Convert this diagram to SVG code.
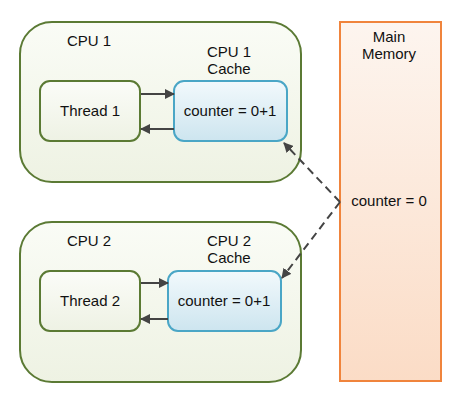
<svg xmlns="http://www.w3.org/2000/svg" width="461" height="401" viewBox="0 0 461 401">
<defs>
<linearGradient id="gCpu" x1="0" y1="0" x2="0" y2="1"><stop offset="0" stop-color="#fafcf6"/><stop offset="1" stop-color="#eef2e3"/></linearGradient>
<linearGradient id="gThread" x1="0" y1="0" x2="0" y2="1"><stop offset="0" stop-color="#fbfcf8"/><stop offset="1" stop-color="#eef2e4"/></linearGradient>
<linearGradient id="gCache" x1="0" y1="0" x2="0" y2="1"><stop offset="0" stop-color="#f2f9fc"/><stop offset="1" stop-color="#cde5ef"/></linearGradient>
<linearGradient id="gMem" x1="0" y1="0" x2="0" y2="1"><stop offset="0" stop-color="#fdf5ef"/><stop offset="1" stop-color="#fbdcc6"/></linearGradient>
<marker id="ah" viewBox="0 0 10 10" refX="9" refY="5" markerWidth="10" markerHeight="10" markerUnits="userSpaceOnUse" orient="auto"><path d="M0,0 L10,5 L0,10 Z" fill="#444"/></marker>
</defs>
<style>
.cpu{fill:url(#gCpu);stroke:#5b7a34;stroke-width:2}
.thr{fill:url(#gThread);stroke:#5b7a34;stroke-width:2}
.cache{fill:url(#gCache);stroke:#4aa6c6;stroke-width:2}
.mem{fill:url(#gMem);stroke:#f0843c;stroke-width:2}
text{font-family:"Liberation Sans",Arial,sans-serif;font-size:15px;fill:#111;text-anchor:middle}
.c{stroke:#444;stroke-width:2;fill:none}
.d{stroke:#444;stroke-width:2;fill:none;stroke-dasharray:8,5}
</style>
<g id="cpu1">
<rect class="cpu" x="20" y="22" width="281" height="160" rx="32"/>
<text x="89" y="46">CPU 1</text>
<text x="229" y="57">CPU 1</text>
<text x="229" y="74">Cache</text>
</g>
<g id="thread1"><rect class="thr" x="40" y="81" width="100" height="60" rx="10"/><text x="90" y="116">Thread 1</text></g>
<g id="cache1"><rect class="cache" x="174" y="81" width="113" height="60" rx="10"/><text x="230" y="116">counter = 0+1</text></g>
<g id="cpu2">
<rect class="cpu" x="20" y="222" width="281" height="160" rx="32"/>
<text x="89" y="246">CPU 2</text>
<text x="229" y="246">CPU 2</text>
<text x="229" y="263">Cache</text>
</g>
<g id="thread2"><rect class="thr" x="40" y="271" width="100" height="60" rx="10"/><text x="90" y="306">Thread 2</text></g>
<g id="cache2"><rect class="cache" x="168" y="271" width="113" height="60" rx="10"/><text x="224" y="306">counter = 0+1</text></g>
<g id="memory">
<rect class="mem" x="340" y="22" width="101" height="359"/>
<text x="389" y="42">Main</text>
<text x="389" y="59">Memory</text>
<text x="389" y="206">counter = 0</text>
</g>
<g id="connectors">
<line class="c" x1="141" y1="94" x2="174" y2="94" marker-end="url(#ah)"/>
<line class="c" x1="174" y1="129" x2="141" y2="129" marker-end="url(#ah)"/>
<line class="c" x1="141" y1="283" x2="168" y2="283" marker-end="url(#ah)"/>
<line class="c" x1="168" y1="319" x2="141" y2="319" marker-end="url(#ah)"/>
<path class="d" d="M340,202 L284,143" marker-end="url(#ah)"/>
<path class="d" d="M340,202 L282,278" marker-end="url(#ah)"/>
</g>
</svg>
